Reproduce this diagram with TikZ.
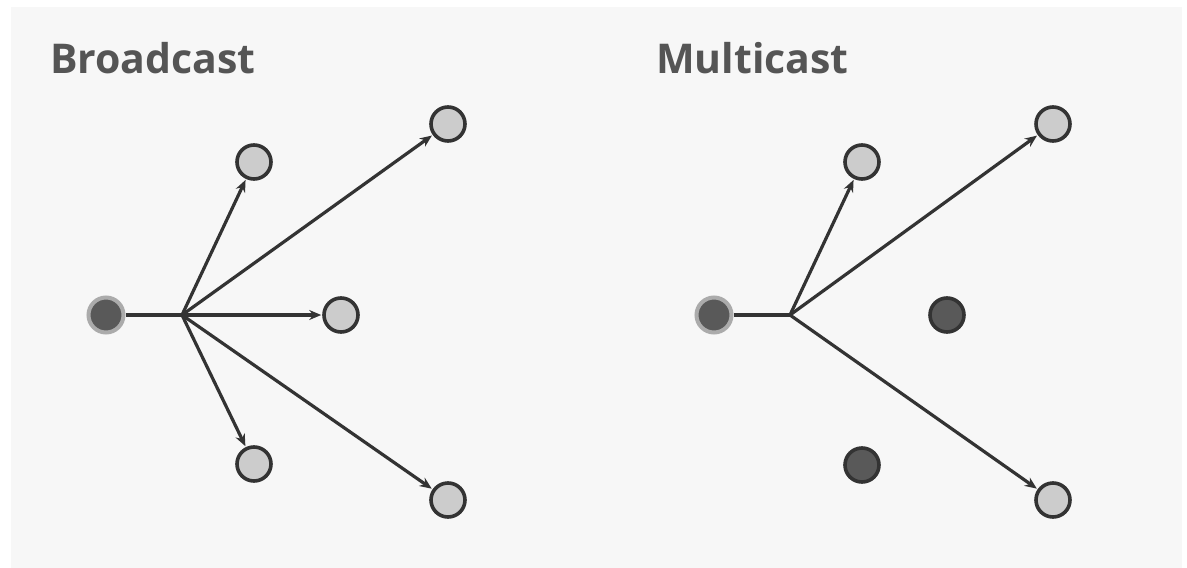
\documentclass[tikz,border=0pt]{standalone}
\usepackage{fontspec}
\setmainfont{Open Sans}
\usetikzlibrary{arrows.meta}
\definecolor{bg}{HTML}{F7F7F7}
\definecolor{ink}{HTML}{333333}
\definecolor{light}{HTML}{CCCCCC}
\definecolor{darkfill}{HTML}{595959}
\definecolor{halo}{HTML}{ABABAB}
\definecolor{titlec}{HTML}{555555}
\tikzset{
  lightnode/.style={circle, minimum size=34pt, inner sep=0pt, fill=light, draw=ink, line width=3.6pt},
  darknode/.style={circle, minimum size=34pt, inner sep=0pt, fill=darkfill, draw=ink, line width=3.6pt},
  srcnode/.style={circle, minimum size=35pt, inner sep=0pt, fill=darkfill, draw=halo, line width=4pt},
  title/.style={anchor=base west, inner sep=0pt, font=\fontsize{41}{48}\selectfont\bfseries, text=titlec},
  link/.style={draw=ink, line width=3.2pt},
  arr/.style={link, -{Stealth[length=12pt, width=10pt]}, shorten >=1pt}
}
\begin{document}
\begin{tikzpicture}[x=1pt,y=-1pt]
\useasboundingbox (0,0) rectangle (1187,568);
\fill[white] (0,0) rectangle (1187,568);
\fill[bg] (11,7) rectangle (1182,568);
% Broadcast
\node[title] (t1) at (50,73) {Broadcast};
\node[srcnode] (s1) at (106,315) {};
\coordinate (j1) at (182,315);
\node[lightnode] (a1) at (254,162) {};
\node[lightnode] (b1) at (448,124) {};
\node[lightnode] (c1) at (341,315) {};
\node[lightnode] (d1) at (254,464) {};
\node[lightnode] (e1) at (448,500) {};
\draw[link] (s1) -- (j1);
\draw[arr] (j1) -- (a1);
\draw[arr] (j1) -- (b1);
\draw[arr] (j1) -- (c1);
\draw[arr] (j1) -- (d1);
\draw[arr] (j1) -- (e1);
% Multicast
\node[title] (t2) at (656,73) {Multicast};
\node[srcnode] (s2) at (714,315) {};
\coordinate (j2) at (790,315);
\node[lightnode] (a2) at (862,162) {};
\node[lightnode] (b2) at (1053,124) {};
\node[darknode] (c2) at (947,315) {};
\node[darknode] (d2) at (862,465) {};
\node[lightnode] (e2) at (1053,500) {};
\draw[link] (s2) -- (j2);
\draw[arr] (j2) -- (a2);
\draw[arr] (j2) -- (b2);
\draw[arr] (j2) -- (e2);
\end{tikzpicture}
\end{document}
